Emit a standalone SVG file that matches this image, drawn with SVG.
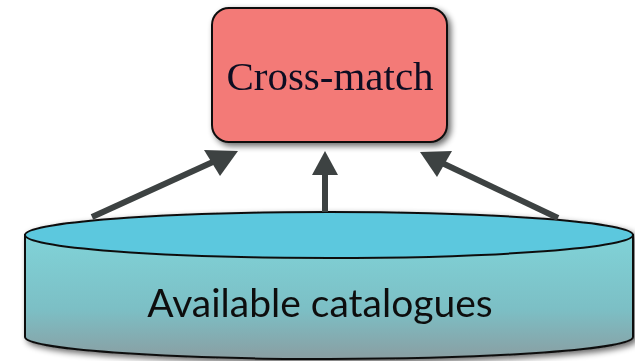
<svg xmlns="http://www.w3.org/2000/svg" width="635" height="361" viewBox="0 0 635 361">
<defs>
<style>
.arrow{stroke:#3d4242;stroke-width:6;fill:none}
.head{fill:#3d4242}
</style>
<linearGradient id="body" x1="0" y1="0" x2="0" y2="1">
<stop offset="0" stop-color="#80d3d8"/>
<stop offset="0.6" stop-color="#7cbfc5"/>
<stop offset="1" stop-color="#8a9ea2"/>
</linearGradient>
<filter id="sh" x="-10%" y="-10%" width="130%" height="130%">
<feGaussianBlur in="SourceAlpha" stdDeviation="3"/>
<feOffset dx="3" dy="3"/>
<feComponentTransfer><feFuncA type="linear" slope="0.6"/></feComponentTransfer>
<feMerge><feMergeNode/><feMergeNode in="SourceGraphic"/></feMerge>
</filter>
</defs>
<g id="catalogues" filter="url(#sh)">
<path d="M25,235 L25,337 A304,22 0 0 0 633,337 L633,235 Z" fill="url(#body)" stroke="#111" stroke-width="2"/>
<ellipse cx="329" cy="235" rx="304" ry="23" fill="#5cc8de" stroke="#111" stroke-width="2"/>
<text x="320" y="317" text-anchor="middle" font-family="Lato, 'Open Sans', sans-serif" font-size="39" fill="#111">Available catalogues</text>
</g>
<g id="connectors">
<line class="arrow" x1="92" y1="217" x2="215" y2="161"/>
<polygon class="head" points="238,151 204,150 220,176"/>
<line class="arrow" x1="325" y1="212" x2="325" y2="172"/>
<polygon class="head" points="325,151 312,175 338,175"/>
<line class="arrow" x1="558" y1="218" x2="440" y2="162"/>
<polygon class="head" points="420,152 437,177 452,151"/>
</g>
<g id="crossmatch" filter="url(#sh)">
<rect x="212" y="8" width="235" height="134" rx="17" fill="#f37a77" stroke="#111" stroke-width="2"/>
<text x="330" y="90" text-anchor="middle" font-family="'Liberation Serif', serif" font-size="41" fill="#111122">Cross-match</text>
</g>
</svg>
